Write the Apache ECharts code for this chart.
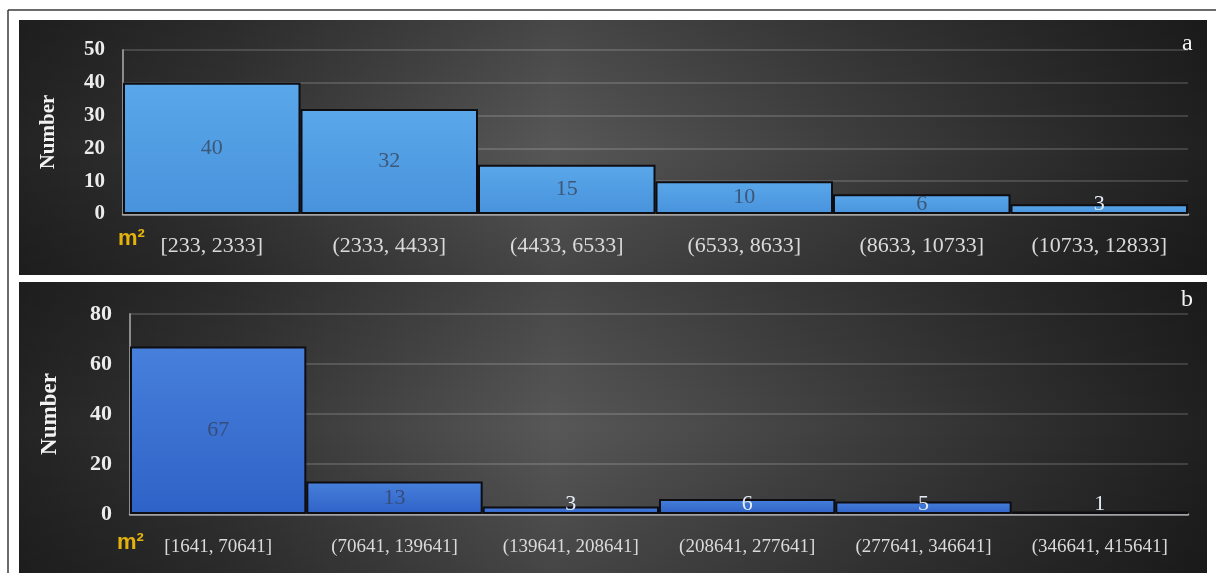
<!DOCTYPE html>
<html>
<head>
<meta charset="utf-8">
<style>
  html, body { margin: 0; padding: 0; background: #ffffff; }
  #chart { width: 1216px; height: 573px; }
</style>
<script src="https://cdn.jsdelivr.net/npm/echarts@6/dist/echarts.min.js"></script>
</head>
<body>
<div id="chart"></div>
<script>
// Area classes (m²) and building counts for the two histograms
const categoriesA = ['[233, 2333]', '(2333, 4433]', '(4433, 6533]', '(6533, 8633]', '(8633, 10733]', '(10733, 12833]'];
const countsA = [40, 32, 15, 10, 6, 3];
const categoriesB = ['[1641, 70641]', '(70641, 139641]', '(139641, 208641]', '(208641, 277641]', '(277641, 346641]', '(346641, 415641]'];
const countsB = [67, 13, 3, 6, 5, 1];

const SERIF = '"Liberation Serif", "DejaVu Serif", serif';

// Panel geometry
const gridA = { left: 123, top: 50, width: 1065, height: 164 };
const gridB = { left: 130, top: 314, width: 1058, height: 200 };
const maxA = 50, maxB = 80;

// Value labels sit in the middle of a bar, but never lower than just above the baseline;
// labels on very short bars fall on the dark background and are drawn light.
function barData(values, grid, max, darkColor) {
  const ppu = grid.height / max;
  return values.map(v => {
    const h = v * ppu;
    const lift = Math.max(0, 10 - h / 2);
    return {
      value: v,
      label: {
        offset: [0, -lift],
        color: h < 18 ? '#e4ebf4' : darkColor
      }
    };
  });
}

function panelBackground(x, y, w, h) {
  return [
    {
      type: 'rect', silent: true, z: -10,
      shape: { x: x, y: y, width: w, height: h },
      style: {
        fill: new echarts.graphic.LinearGradient(0, 0, 1, 0, [
          { offset: 0, color: '#242424' },
          { offset: 0.18, color: '#353535' },
          { offset: 0.45, color: '#575757' },
          { offset: 0.7, color: '#3e3e3e' },
          { offset: 1, color: '#202020' }
        ])
      }
    },
    {
      type: 'rect', silent: true, z: -9,
      shape: { x: x, y: y, width: w, height: h },
      style: {
        fill: new echarts.graphic.LinearGradient(0, 0, 0, 1, [
          { offset: 0, color: 'rgba(0,0,0,0.18)' },
          { offset: 0.5, color: 'rgba(0,0,0,0)' },
          { offset: 1, color: 'rgba(0,0,0,0.2)' }
        ])
      }
    }
  ];
}

const chart = echarts.init(document.getElementById('chart'), null, { renderer: 'canvas' });

function xAxisCfg(gridIndex, data, fontSize, margin) {
  return {
    type: 'category', gridIndex: gridIndex, data: data,
    axisTick: { show: false },
    axisLine: { lineStyle: { color: '#a3a3a3', width: 2.5 } },
    axisLabel: { interval: 0, color: '#dadada', fontFamily: SERIF, fontSize: fontSize, margin: margin }
  };
}

function yAxisCfg(gridIndex, max, interval, fontSize, nameSize, nameGap) {
  return {
    type: 'value', gridIndex: gridIndex, min: 0, max: max, interval: interval,
    name: 'Number', nameLocation: 'middle', nameGap: nameGap, nameRotate: 90,
    nameTextStyle: { color: '#f2f2f2', fontFamily: SERIF, fontSize: nameSize, fontWeight: 'bold' },
    axisLine: { show: true, lineStyle: { color: '#8c8c8c', width: 2 } },
    axisTick: { show: false },
    axisLabel: { color: '#ececec', fontFamily: SERIF, fontSize: fontSize, fontWeight: 'bold', margin: 18 },
    splitLine: { lineStyle: { color: 'rgba(255,255,255,0.15)', width: 2 } }
  };
}

function barSeries(axisIndex, data, topColor, bottomColor) {
  return {
    type: 'bar', xAxisIndex: axisIndex, yAxisIndex: axisIndex,
    barCategoryGap: '0%', data: data,
    itemStyle: {
      color: new echarts.graphic.LinearGradient(0, 0, 0, 1, [
        { offset: 0, color: topColor },
        { offset: 1, color: bottomColor }
      ]),
      borderColor: '#0d0d12', borderWidth: 2
    },
    label: { show: true, position: 'inside', fontFamily: SERIF, fontSize: 22 }
  };
}

const option = {
  backgroundColor: '#ffffff',
  animation: false,
  grid: [
    Object.assign({ containLabel: false }, gridA),
    Object.assign({ containLabel: false }, gridB)
  ],
  xAxis: [
    xAxisCfg(0, categoriesA, 22, 21),
    xAxisCfg(1, categoriesB, 19, 24)
  ],
  yAxis: [
    yAxisCfg(0, maxA, 10, 21, 21, 64),
    yAxisCfg(1, maxB, 20, 22, 23, 68)
  ],
  series: [
    barSeries(0, barData(countsA, gridA, maxA, '#3d5777'), '#5aa7ea', '#4893dc'),
    barSeries(1, barData(countsB, gridB, maxB, '#364d7c'), '#4780dc', '#2f62c6')
  ],
  graphic: [
    // page frame
    { type: 'line', silent: true, shape: { x1: 8, y1: 10, x2: 1216, y2: 10 }, style: { stroke: '#3a3a3a', lineWidth: 1.5 } },
    { type: 'line', silent: true, shape: { x1: 8, y1: 10, x2: 8, y2: 573 }, style: { stroke: '#3a3a3a', lineWidth: 1.5 } },
    ...panelBackground(19, 20, 1188, 255),
    ...panelBackground(19, 282, 1188, 291),
    // panel letters
    { type: 'text', silent: true, left: 1182, top: 32, style: { text: 'a', fill: '#f4f4f4', font: '24px ' + SERIF } },
    { type: 'text', silent: true, left: 1181, top: 288, style: { text: 'b', fill: '#f4f4f4', font: '24px ' + SERIF } },
    // unit marks beside the class labels
    { type: 'text', silent: true, left: 118, top: 228, style: { text: 'm²', fill: '#e3b20c', font: 'bold 22px "Liberation Sans", Arial, sans-serif' } },
    { type: 'text', silent: true, left: 117, top: 532, style: { text: 'm²', fill: '#e3b20c', font: 'bold 22px "Liberation Sans", Arial, sans-serif' } }
  ]
};

chart.setOption(option);
</script>
</body>
</html>
